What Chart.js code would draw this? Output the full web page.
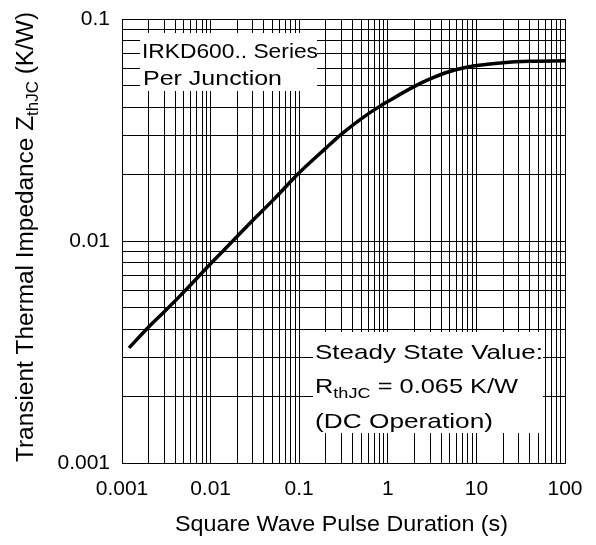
<!DOCTYPE html>
<html>
<head>
<meta charset="utf-8">
<script src="https://cdn.jsdelivr.net/npm/chart.js@4"></script>
<style>
  body { margin: 0; background: #fff; }
  canvas { display: block; }
</style>
</head>
<body>
<canvas id="chart" width="596" height="545"></canvas>
<script>
// pulse duration (s) and transient thermal impedance (K/W)
const pulseDuration = [0.0012, 0.002, 0.003, 0.005, 0.01, 0.02, 0.03, 0.05, 0.1, 0.2, 0.3, 0.5, 0.8, 1, 2, 3, 5, 10, 20, 40, 100];
const impedance = [0.0033, 0.0041, 0.0048, 0.0059, 0.0079, 0.0105, 0.0124, 0.0152, 0.0203, 0.0262, 0.0303, 0.0355, 0.0403, 0.0425, 0.0497, 0.0537, 0.0580, 0.0617, 0.0636, 0.0645, 0.0648];

const xDecades = [0.001, 0.01, 0.1, 1, 10, 100];
const xLabels = ['0.001', '0.01', '0.1', '1', '10', '100'];
const yDecades = [0.001, 0.01, 0.1];
const yLabels = ['0.001', '0.01', '0.1'];

const FONT = '"Liberation Sans", Arial, sans-serif';

function gridValues(decades) {
  const vals = [];
  for (let i = 0; i < decades.length - 1; i++) {
    for (let m = 1; m <= 9; m++) vals.push(+(decades[i] * m).toPrecision(3));
  }
  vals.push(decades[decades.length - 1]);
  return vals;
}

// draw runs of text, stretched along the baseline to a target width
function fitRuns(ctx, runs, width) {
  let total = 0;
  runs.forEach(r => {
    ctx.font = r.size + 'px ' + FONT;
    r.w = ctx.measureText(r.t).width;
    total += r.w;
  });
  ctx.save();
  ctx.scale(width / total, 1);
  let cx = 0;
  runs.forEach(r => {
    ctx.font = r.size + 'px ' + FONT;
    ctx.fillText(r.t, cx, r.dy || 0);
    cx += r.w;
  });
  ctx.restore();
}

function textAt(ctx, runs, x, y, width) {
  ctx.save();
  ctx.translate(x, y);
  fitRuns(ctx, runs, width);
  ctx.restore();
}

const labelsPlugin = {
  id: 'labels',
  beforeDatasetsDraw(chart) {
    const ctx = chart.ctx;
    ctx.save();
    ctx.fillStyle = '#fff';
    ctx.fillRect(140, 33, 177, 58);
    ctx.fillRect(313, 332, 230, 101);
    ctx.restore();
  },
  afterDraw(chart) {
    const ctx = chart.ctx;
    const xs = chart.scales.x, ys = chart.scales.y;
    ctx.save();
    ctx.fillStyle = '#000';
    ctx.textBaseline = 'middle';

    ctx.font = '21px ' + FONT;
    ctx.textAlign = 'center';
    xDecades.forEach((v, i) => ctx.fillText(xLabels[i], xs.getPixelForValue(v), 489));
    ctx.textAlign = 'right';
    yDecades.forEach((v, i) => ctx.fillText(yLabels[i], 110, ys.getPixelForValue(v)));

    ctx.textAlign = 'left';
    ctx.textBaseline = 'alphabetic';

    // axis titles
    textAt(ctx, [{t: 'Square Wave Pulse Duration (s)', size: 22}], 175, 531, 333);
    ctx.save();
    ctx.translate(33, 462);
    ctx.rotate(-Math.PI / 2);
    fitRuns(ctx, [
      {t: 'Transient Thermal Impedance Z', size: 23},
      {t: 'thJC', size: 16, dy: 5},
      {t: ' (K/W)', size: 23}
    ], 450);
    ctx.restore();

    // notes
    textAt(ctx, [{t: 'IRKD600.. Series', size: 21}], 142, 58, 176);
    textAt(ctx, [{t: 'Per Junction', size: 21}], 143, 85, 139);
    textAt(ctx, [{t: 'Steady State Value:', size: 21}], 315, 359, 228);
    textAt(ctx, [
      {t: 'R', size: 21},
      {t: 'thJC', size: 15, dy: 5},
      {t: ' = 0.065 K/W', size: 21}
    ], 315, 393, 203);
    textAt(ctx, [{t: '(DC Operation)', size: 21}], 315, 428, 178);
    ctx.restore();
  }
};

function logAxis(min, max, decades) {
  return {
    type: 'logarithmic',
    min: min,
    max: max,
    afterBuildTicks(scale) {
      scale.ticks = gridValues(decades).map(v => ({value: v}));
    },
    ticks: { display: false },
    grid: { color: '#000', lineWidth: 1, drawTicks: false },
    border: { display: true, color: '#000', width: 1 }
  };
}

new Chart(document.getElementById('chart').getContext('2d'), {
  type: 'line',
  data: {
    datasets: [{
      data: pulseDuration.map((x, i) => ({x: x, y: impedance[i]})),
      borderColor: '#000',
      borderWidth: 3.5,
      pointRadius: 0,
      cubicInterpolationMode: 'monotone',
      fill: false
    }]
  },
  options: {
    responsive: false,
    animation: false,
    devicePixelRatio: 1,
    layout: { padding: { left: 122, right: 31, top: 19, bottom: 82 } },
    plugins: { legend: { display: false }, tooltip: { enabled: false } },
    scales: {
      x: logAxis(0.001, 100, xDecades),
      y: logAxis(0.001, 0.1, yDecades)
    }
  },
  plugins: [labelsPlugin]
});
</script>
</body>
</html>
